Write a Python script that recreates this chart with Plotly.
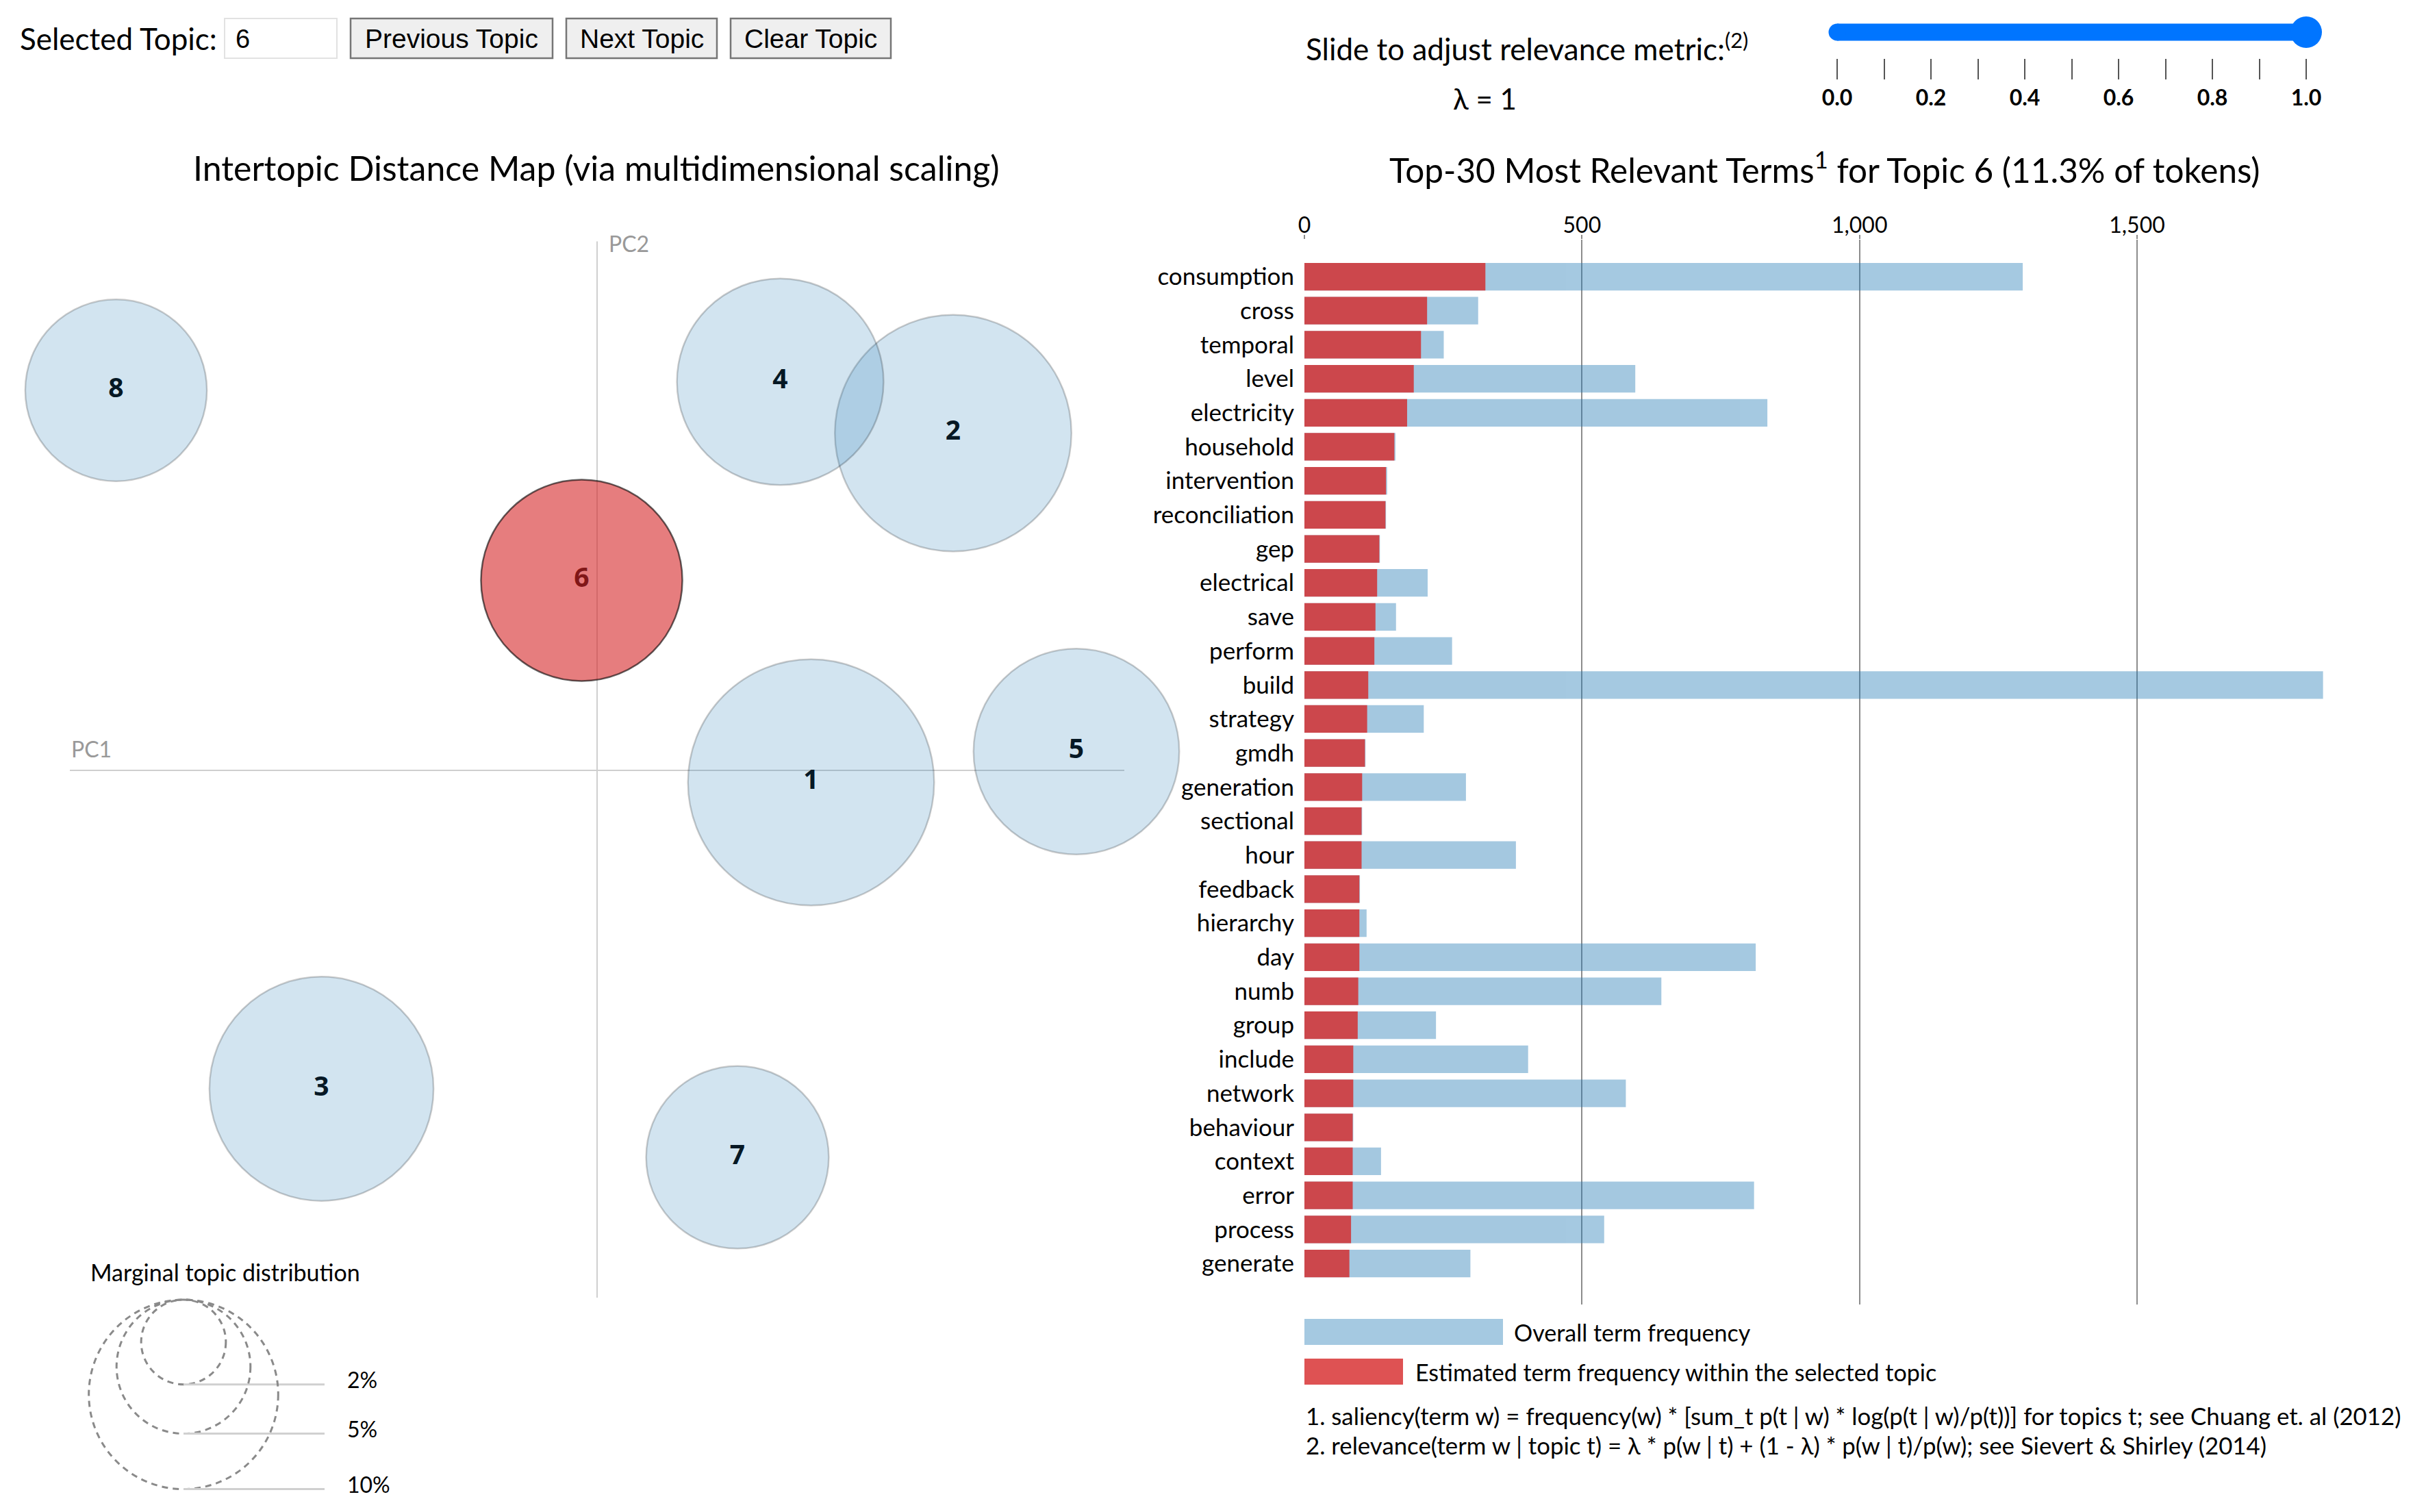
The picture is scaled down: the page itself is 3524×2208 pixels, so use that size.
import numpy as np
import plotly.graph_objects as go

W, H = 3524, 2208
OFF = 8            # page body margin, px

# ---- intertopic distance map (MDS coordinates) ----
topics = [1, 2, 3, 4, 5, 6, 7, 8]
pc1 = [0.125, 0.208, -0.161, 0.107, 0.280, -0.009, 0.082, -0.281]
pc2 = [-0.007, 0.197, -0.186, 0.227, 0.011, 0.111, -0.226, 0.222]
share = [16.9, 15.6, 14.0, 11.9, 11.8, 11.3, 9.3, 9.2]   # % of tokens
selected = 6
lam = 1.0
legend_pcts = [2, 5, 10]

# ---- top-30 terms for the selected topic ----
terms = ["consumption", "cross", "temporal", "level", "electricity", "household",
         "intervention", "reconciliation", "gep", "electrical", "save", "perform",
         "build", "strategy", "gmdh", "generation", "sectional", "hour", "feedback",
         "hierarchy", "day", "numb", "group", "include", "network", "behaviour",
         "context", "error", "process", "generate"]
topic_freq = [326, 221, 210, 197, 185, 162, 147, 146, 135, 131, 128, 126, 115, 113,
              109, 104, 103, 103, 99, 99, 99, 97, 96, 88, 88, 87, 87, 87, 84, 81]
overall_freq = [1294, 313, 251, 596, 834, 164, 149, 147, 136, 222, 165, 266, 1835, 215,
                110, 291, 104, 381, 100, 112, 813, 643, 237, 403, 579, 88, 138, 810, 540, 299]
freq_ticks = [0, 500, 1000, 1500]
lam_labels = [0.0, 0.2, 0.4, 0.6, 0.8, 1.0]
lam_minor = [0.0, 0.1, 0.2, 0.3, 0.4, 0.5, 0.6, 0.7, 0.8, 0.9, 1.0]

BLUE = "#1f77b4"
RED = "#d62728"
FONT = "Lato"
BTN_FONT = "Liberation Sans"

PX = 2500.0        # screen px per MDS unit
R10 = 138.3        # radius (px) of a 10% circle
X0, Y0 = 872, 1125  # screen position of the MDS origin


def fx(px):
    return (px - OFF) / W


def fy(py):
    return 1 - (py - OFF) / H


def radius_px(p):
    return R10 * np.sqrt(p / 10.0)


fig = go.Figure()

# numbers first so that circles sit on top of them (as in LDAvis)
fig.add_trace(go.Scatter(
    x=pc1, y=pc2, mode="text", text=[f"<b>{t}</b>" for t in topics],
    textfont=dict(family="Noto Sans", size=39, color="black", weight="bold"),
    xaxis="x", yaxis="y", hoverinfo="skip", showlegend=False))

fill = ["rgba(214,39,40,0.6)" if t == selected else "rgba(31,119,180,0.2)" for t in topics]
edge = ["rgba(0,0,0,0.6)" if t == selected else "rgba(0,0,0,0.2)" for t in topics]
fig.add_trace(go.Scatter(
    x=pc1, y=pc2, mode="markers",
    marker=dict(size=[2 * radius_px(s) for s in share], color=fill, opacity=1,
                line=dict(color=edge, width=2.5)),
    cliponaxis=False, xaxis="x", yaxis="y",
    hovertext=[f"Topic {t}: {s}%" for t, s in zip(topics, share)], hoverinfo="text",
    showlegend=False))

# bars
fig.add_trace(go.Bar(
    y=terms, x=overall_freq, orientation="h", marker=dict(color=BLUE, line_width=0),
    opacity=0.4, xaxis="x2", yaxis="y2", name="Overall term frequency", showlegend=False))
fig.add_trace(go.Bar(
    y=terms, x=topic_freq, orientation="h", marker=dict(color=RED, line_width=0),
    opacity=0.8, xaxis="x2", yaxis="y2", name="Estimated term frequency", showlegend=False))

# relevance slider
fig.add_trace(go.Scatter(
    x=[lam_minor[0], lam], y=[0.585, 0.585], mode="lines+markers",
    line=dict(color="#0075ff", width=25), marker=dict(size=25, color="#0075ff", opacity=1),
    cliponaxis=False, xaxis="x3", yaxis="y3", hoverinfo="skip", showlegend=False))
fig.add_trace(go.Scatter(
    x=[lam], y=[0.585], mode="markers", marker=dict(size=46, color="#0075ff", opacity=1),
    cliponaxis=False, xaxis="x3", yaxis="y3", hoverinfo="skip", showlegend=False))

shapes = []
annotations = []

# PC axes lines
ax_ext = 0.308
shapes.append(dict(type="line", xref="x", yref="y", x0=-ax_ext, x1=ax_ext, y0=0, y1=0,
                   line=dict(color="#cfcfcf", width=2), layer="below"))
shapes.append(dict(type="line", xref="x", yref="y", x0=0, x1=0, y0=-ax_ext, y1=ax_ext + 0.001,
                   line=dict(color="#cfcfcf", width=2), layer="below"))
annotations.append(dict(xref="x", yref="y", x=-ax_ext, y=0.004, text="PC1", showarrow=False,
                        xanchor="left", yanchor="bottom", font=dict(family=FONT, size=32, color="#999")))
annotations.append(dict(xref="x", yref="y", x=0.006, y=ax_ext, text="PC2", showarrow=False,
                        xanchor="left", yanchor="middle", font=dict(family=FONT, size=32, color="#999")))

# marginal topic distribution legend
lg_cx = -0.2416
lg_top = -0.3092
for p in legend_pcts:
    r = radius_px(p) / PX
    bottom = lg_top - 2 * r
    shapes.append(dict(type="circle", xref="x", yref="y", x0=lg_cx - r, x1=lg_cx + r,
                       y0=bottom, y1=lg_top, line=dict(color="#8a8a8a", width=3, dash="9px,7px")))
    shapes.append(dict(type="line", xref="x", yref="y", x0=lg_cx, x1=-0.1592, y0=bottom, y1=bottom,
                       line=dict(color="#d0d0d0", width=3)))
    annotations.append(dict(xref="x", yref="y", x=-0.1468, y=bottom + 0.003, text=f"{p}%",
                            showarrow=False, xanchor="left", yanchor="middle",
                            font=dict(family=FONT, size=32, color="black")))
annotations.append(dict(xref="paper", yref="paper", x=fx(130), y=fy(1857),
                        text="Marginal topic distribution", showarrow=False,
                        xanchor="left", yanchor="middle", font=dict(family=FONT, size=34, color="black")))

# panel titles
annotations.append(dict(xref="paper", yref="paper", x=fx(871), y=fy(245),
                        text="Intertopic Distance Map (via multidimensional scaling)", showarrow=False,
                        xanchor="center", yanchor="middle", font=dict(family=FONT, size=50, color="black")))
annotations.append(dict(xref="paper", yref="paper", x=fx(2665), y=fy(245),
                        text=f"Top-30 Most Relevant Terms<sup>1</sup> for Topic {selected} "
                             f"({share[topics.index(selected)]}% of tokens)",
                        showarrow=False, xanchor="center", yanchor="middle",
                        font=dict(family=FONT, size=49.5, color="black")))

# controls: selected topic box and buttons
annotations.append(dict(xref="paper", yref="paper", x=fx(27), y=fy(56), text="Selected Topic:",
                        showarrow=False, xanchor="left", yanchor="middle",
                        font=dict(family=FONT, size=44, color="black")))
shapes.append(dict(type="rect", xref="paper", yref="paper", x0=fx(328), x1=fx(492), y0=fy(85), y1=fy(27),
                   fillcolor="white", line=dict(color="#e2e2e2", width=2)))
annotations.append(dict(xref="paper", yref="paper", x=fx(342), y=fy(57), text=str(selected),
                        showarrow=False, xanchor="left", yanchor="middle",
                        font=dict(family=BTN_FONT, size=38, color="black")))
for label, x0, x1 in [("Previous Topic", 512, 807), ("Next Topic", 827, 1047), ("Clear Topic", 1067, 1301)]:
    shapes.append(dict(type="rect", xref="paper", yref="paper", x0=fx(x0), x1=fx(x1), y0=fy(85), y1=fy(27),
                       fillcolor="#efefef", line=dict(color="#767676", width=2.5)))
    annotations.append(dict(xref="paper", yref="paper", x=fx((x0 + x1) / 2), y=fy(57), text=label,
                            showarrow=False, xanchor="center", yanchor="middle",
                            font=dict(family=BTN_FONT, size=39, color="black")))

# slider labels
annotations.append(dict(xref="paper", yref="paper", x=fx(1905), y=fy(68),
                        text="Slide to adjust relevance metric:<sup>(2)</sup>", showarrow=False,
                        xanchor="left", yanchor="middle", font=dict(family=FONT, size=44, color="black")))
annotations.append(dict(xref="paper", yref="paper", x=fx(2168), y=fy(144),
                        text=f"λ = {lam:g}", showarrow=False,
                        xanchor="center", yanchor="middle", font=dict(family=FONT, size=42, color="black")))

# bar legend + footnotes
shapes.append(dict(type="rect", xref="paper", yref="paper", x0=fx(1905), x1=fx(2195), y0=fy(1964), y1=fy(1926),
                   fillcolor="rgba(31,119,180,0.4)", line_width=0))
shapes.append(dict(type="rect", xref="paper", yref="paper", x0=fx(1905), x1=fx(2049), y0=fy(2022), y1=fy(1984),
                   fillcolor="rgba(214,39,40,0.8)", line_width=0))
annotations.append(dict(xref="paper", yref="paper", x=fx(2209), y=fy(1945), text="Overall term frequency",
                        showarrow=False, xanchor="left", yanchor="middle",
                        font=dict(family=FONT, size=34, color="black")))
annotations.append(dict(xref="paper", yref="paper", x=fx(2065), y=fy(2003),
                        text="Estimated term frequency within the selected topic",
                        showarrow=False, xanchor="left", yanchor="middle",
                        font=dict(family=FONT, size=34, color="black")))
annotations.append(dict(xref="paper", yref="paper", x=fx(1905), y=fy(2067),
                        text="1. saliency(term w) = frequency(w) * [sum_t p(t | w) * log(p(t | w)/p(t))] "
                             "for topics t; see Chuang et. al (2012)",
                        showarrow=False, xanchor="left", yanchor="middle",
                        font=dict(family=FONT, size=34.8, color="black")))
annotations.append(dict(xref="paper", yref="paper", x=fx(1905), y=fy(2110),
                        text="2. relevance(term w | topic t) = λ * p(w | t) + (1 - λ) * p(w | t)/p(w); "
                             "see Sievert & Shirley (2014)",
                        showarrow=False, xanchor="left", yanchor="middle",
                        font=dict(family=FONT, size=34.8, color="black")))

n = len(terms)
mds_left, mds_right, mds_top = OFF, 1700, 300
fig.update_layout(
    template="none",
    width=W, height=H, margin=dict(l=0, r=0, t=0, b=0, autoexpand=False),
    paper_bgcolor="white", plot_bgcolor="rgba(0,0,0,0)",
    font=dict(family=FONT, color="black"),
    barmode="overlay", bargap=0.19,
    shapes=shapes, annotations=annotations,
    xaxis=dict(domain=[fx(mds_left), fx(mds_right)],
               range=[(mds_left - X0) / PX, (mds_right - X0) / PX], visible=False, automargin=False),
    yaxis=dict(domain=[0, fy(mds_top)],
               range=[(Y0 - (H + OFF)) / PX, (Y0 - mds_top) / PX], visible=False, automargin=False),
    xaxis2=dict(domain=[fx(1905), 1], range=[0, (W + OFF - 1905) / 0.8107], anchor="y2", side="top",
                tickvals=freq_ticks, tickformat=",", showgrid=True, gridcolor="#8c8c8c", gridwidth=2,
                zeroline=False, showline=False, ticks="outside", ticklen=6, tickcolor="#8c8c8c",
                tickwidth=2, automargin=False, ticklabelstandoff=-10,
                tickfont=dict(family=FONT, size=32, color="black")),
    yaxis2=dict(domain=[fy(1905), fy(350)], type="category", categoryorder="array",
                categoryarray=terms, range=[n - 1 + 1.207, -1.087], anchor="x2",
                showgrid=False, zeroline=False, showline=False, ticks="", automargin=False,
                ticklabelstandoff=14, tickfont=dict(family=FONT, size=35, color="black")),
    xaxis3=dict(domain=[fx(2683), fx(3368)], range=[0, 1], anchor="y3",
                tickvals=lam_labels, ticktext=[f"{v:.1f}" for v in lam_labels],
                ticks="outside", ticklen=30, tickwidth=2, tickcolor="#555",
                minor=dict(tickvals=lam_minor, ticks="outside", ticklen=30, tickwidth=2,
                           tickcolor="#555", showgrid=False),
                showgrid=False, zeroline=False, showline=False, automargin=False,
                tickfont=dict(family=FONT, size=32, color="black", weight="bold")),
    yaxis3=dict(domain=[fy(85), fy(20)], range=[0, 1], visible=False, automargin=False),
)

fig.write_html("out.html")
